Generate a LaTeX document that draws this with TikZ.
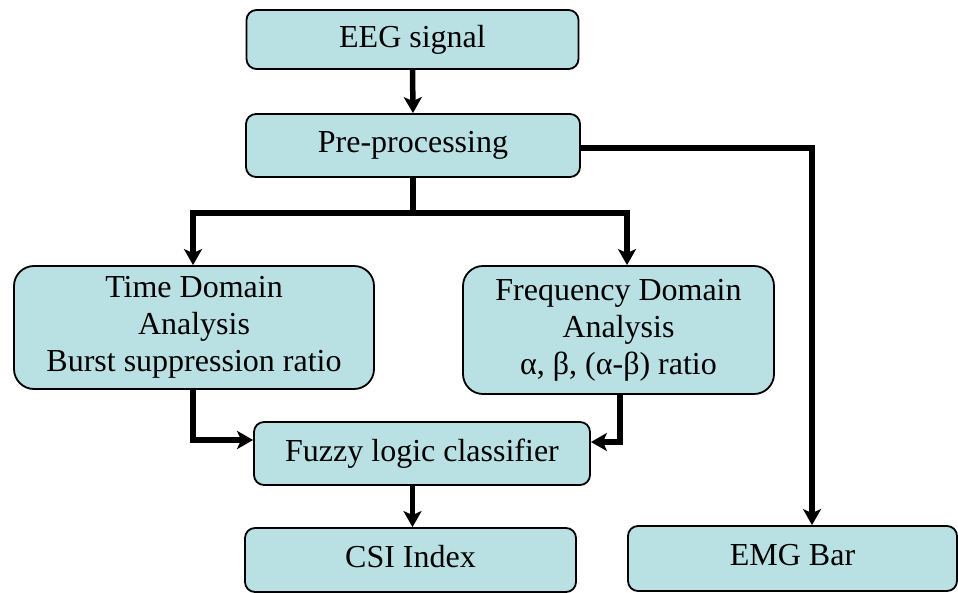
\documentclass[tikz,border=0pt]{standalone}
\usepackage{fontspec}
\setmainfont{Liberation Serif}
\usetikzlibrary{arrows.meta,positioning}
\definecolor{boxfill}{RGB}{185,224,227}
\tikzset{
  block/.style={draw=black, line width=1.8pt, fill=boxfill, rounded corners=10pt,
    align=center, inner sep=0pt, font=\fontsize{32}{37}\selectfont},
  bigblock/.style={block, rounded corners=20pt},
  flow/.style={line width=5.5pt, -{Stealth[length=16pt,width=18pt,inset=4pt]}},
  flowline/.style={line width=5.5pt}
}
\begin{document}
\begin{tikzpicture}[x=1pt,y=-1pt]
\useasboundingbox (0,0) rectangle (958,593);

% processing blocks
\node[block, minimum width=332pt, minimum height=59pt] (eeg) at (412.5,39.5) {\raisebox{3pt}{EEG signal}};
\node[block, minimum width=334pt, minimum height=63pt] (pre) at (413,145.5) {\raisebox{5pt}{Pre-processing}};
\node[bigblock, minimum width=360pt, minimum height=123pt] (time) at (194,327.5) {Time Domain\\Analysis\\Burst suppression ratio};
\node[bigblock, minimum width=311pt, minimum height=128pt] (freq) at (618.5,330) {Frequency Domain\\Analysis\\α, β, (α-β) ratio};
\node[block, minimum width=336pt, minimum height=63pt] (fuzzy) at (422,453.5) {\raisebox{6pt}{Fuzzy logic classifier}};
\node[block, minimum width=331pt, minimum height=64pt] (csi) at (410.5,560) {\raisebox{7pt}{CSI Index}};
\node[block, minimum width=329pt, minimum height=65pt] (emg) at (792.5,558.5) {\raisebox{7pt}{EMG Bar}};

% branch points
\coordinate (split) at (413,213);
\coordinate (tsplit) at (193,213);
\coordinate (fsplit) at (627,213);
\coordinate (tbend) at (193,440);
\coordinate (fbend) at (620,442);
\coordinate (ecorner) at (812,148);

% connectors
\draw[flow] (eeg.south) -- (pre.north);
\draw[flowline] (pre.south) -- (split);
\draw[flowline, line cap=rect] (tsplit) -- (fsplit);
\draw[flow] (tsplit) -- (tsplit |- time.north);
\draw[flow] (fsplit) -- (fsplit |- freq.north);
\draw[flow] (pre.east |- ecorner) -| (emg.north -| ecorner);
\draw[flow] (tbend |- time.south) -- (tbend) -- (tbend -| fuzzy.west);
\draw[flow] (fbend |- freq.south) -- (fbend) -- (fbend -| fuzzy.east);
\draw[flow] (fuzzy.south -| eeg.south) -- (csi.north -| eeg.south);
\end{tikzpicture}
\end{document}
